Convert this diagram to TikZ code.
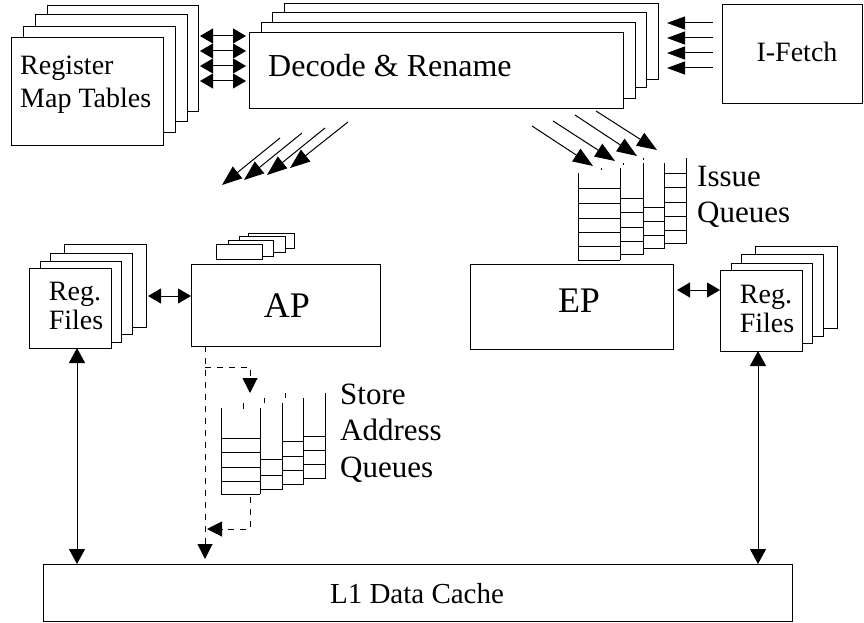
\documentclass[tikz,border=0pt]{standalone}
\usepackage{fontspec}
\setmainfont{Liberation Serif}
\usetikzlibrary{arrows.meta,calc}
\newcommand\mybox[5]{\node[box,anchor=north west,minimum width={(#4-#2)*1pt},minimum height={(#5-#3)*1pt}] (#1) at (#2,#3) {};}
\begin{document}
\begin{tikzpicture}[x=1pt,y=-1pt,
  box/.style={draw,fill=white,line width=1pt,inner sep=0pt,outer sep=0pt},
  qline/.style={line width=1pt},
  lbl/.style={inner sep=0pt,font=\fontsize{28}{33}\selectfont},
  qlbl/.style={inner sep=0pt,font=\fontsize{31}{36}\selectfont},
  biglbl/.style={inner sep=0pt,font=\fontsize{36}{40}\selectfont},
  bigarr/.style={line width=1pt,-{Triangle[length=18pt,width=13pt]}},
  diagarr/.style={line width=1pt,-{Triangle[length=20pt,width=15pt]}},
  dblarr/.style={line width=1pt,{Triangle[length=13pt,width=15pt]}-{Triangle[length=13pt,width=15pt]}},
  vdblarr/.style={line width=1pt,{Triangle[length=15pt,width=16pt]}-{Triangle[length=15pt,width=16pt]}},
  dasharr/.style={line width=1pt,dash pattern=on 6pt off 6pt,-{Triangle[length=15pt,width=15pt]}}
]
\useasboundingbox (0,0) rectangle (864,623);
% Register map tables
\mybox{rmt4}{47}{6}{198}{112}
\mybox{rmt3}{35}{15}{187}{122}
\mybox{rmt2}{23}{27}{175}{132}
\mybox{rmt1}{11}{38}{163}{145}
\node[lbl,anchor=base west] (rmtA) at (20,75) {Register};
\node[lbl,anchor=base west] (rmtB) at (20,108) {Map Tables};
% Decode & Rename
\mybox{dec4}{284}{4}{658}{80}
\mybox{dec3}{272}{13}{646}{88}
\mybox{dec2}{261}{23}{635}{99}
\mybox{dec1}{249}{33}{623}{109}
\node[inner sep=0pt,font=\fontsize{32}{36}\selectfont,anchor=base west] (decT) at (268,77) {Decode \& Rename};
% I-Fetch
\mybox{ifetch}{722}{5}{862}{104}
\node[lbl,anchor=base] (ifT) at (797,62) {I-Fetch};
% arrows I-Fetch -> Decode
\foreach \yy in {23,38,53,68}{
  \coordinate (h) at (0,\yy);
  \draw[bigarr,shorten <=9pt,shorten >=9pt] (ifetch.west |- h) -- (dec4.east |- h);
}
% RMT <-> Decode
\foreach \yy in {36,51,66,81}{
  \coordinate (h) at (0,\yy);
  \draw[dblarr,shorten <=2pt,shorten >=3pt] (rmt4.east |- h) -- (dec1.west |- h);
}
% diagonal arrows to AP side
\foreach \sx/\sy/\tx/\ty in {280/138/222/185,302/133/244/180,325/128/267/175,348/122/290/168}{
  \coordinate (ds) at (\sx,\sy);
  \coordinate (dt) at (\tx,\ty);
  \draw[diagarr] (ds) -- (dt);
}
% diagonal arrows to issue queues
\foreach \sx/\sy/\tx/\ty in {532/126/593/166,553/121/615/161,575/115/637/156,596/111/657/150}{
  \coordinate (ds) at (\sx,\sy);
  \coordinate (dt) at (\tx,\ty);
  \draw[diagarr] (ds) -- (dt);
}
% Issue queues
\draw[qline] (578,173) -- (578,260) -- (620,260);
\draw[qline] (620,168) -- (620,260);
\foreach \yy in {188,203,218,232,246} \draw[qline] (578,\yy) -- (620,\yy);
\draw[qline] (643,163) -- (643,254) -- (620,254);
\foreach \yy in {198,212,227,241} \draw[qline] (620,\yy) -- (643,\yy);
\draw[qline] (664,163) -- (664,248) -- (643,248);
\foreach \yy in {207,221,235} \draw[qline] (643,\yy) -- (664,\yy);
\draw[qline] (686,158) -- (686,243) -- (664,243);
\foreach \yy in {173,187,202,216,230} \draw[qline] (664,\yy) -- (686,\yy);
\draw[qline] (601,168) -- (601,170) (623,163) -- (623,165) (643,158) -- (643,160);
\node[qlbl,anchor=base west] (iqA) at (697,186) {Issue};
\node[qlbl,anchor=base west] (iqB) at (697,222) {Queues};
% Reg files left
\mybox{rfl4}{64}{244}{146}{327}
\mybox{rfl3}{50}{253}{132}{334}
\mybox{rfl2}{40}{261}{121}{342}
\mybox{rfl1}{29}{268}{111}{348}
\node[lbl,anchor=base] (rflA) at (75,300) {Reg.};
\node[lbl,anchor=base] (rflB) at (76,329) {Files};
% Reg files right
\mybox{rfr4}{755}{246}{837}{328}
\mybox{rfr3}{741}{254}{823}{336}
\mybox{rfr2}{731}{263}{812}{343}
\mybox{rfr1}{720}{270}{802}{351}
\node[lbl,anchor=base] (rfrA) at (766,303) {Reg.};
\node[lbl,anchor=base] (rfrB) at (767,332) {Files};
% AP small stack
\mybox{s4}{248}{233}{294}{248}
\mybox{s3}{239}{236}{285}{252}
\mybox{s2}{228}{240}{273}{256}
\mybox{s1}{216}{244}{262}{259}
% AP and EP
\mybox{ap}{191}{264}{380}{346}
\node[biglbl,anchor=base] (apT) at (287,317) {AP};
\mybox{ep}{470}{264}{673}{349}
\node[biglbl,anchor=base] (epT) at (579,312) {EP};
% L1
\mybox{l1}{43}{564}{792}{621}
\node[inner sep=0pt,font=\fontsize{29}{34}\selectfont,anchor=base] (l1T) at (417,603) {L1 Data Cache};
% horizontal double arrows
\coordinate (hl) at (0,296);
\draw[dblarr,shorten <=2pt] (rfl4.east |- hl) -- (ap.west |- hl);
\coordinate (hr) at (0,290);
\draw[dblarr,shorten <=4pt] (ep.east |- hr) -- (rfr1.west |- hr);
% vertical double arrows
\coordinate (vl) at (77,0);
\draw[vdblarr] (rfl1.south -| vl) -- (l1.north -| vl);
\coordinate (vr) at (758,0);
\draw[vdblarr] (rfr1.south -| vr) -- (l1.north -| vr);
% dashed store path
\coordinate (dx) at (205,0);
\draw[dasharr,shorten >=5pt] (ap.south -| dx) -- (l1.north -| dx);
\coordinate (br) at (205,367);
\coordinate (bt) at (250,393);
\draw[dasharr] (br) -| (bt);
\coordinate (bb) at (250,497);
\coordinate (be) at (207,529);
\draw[dasharr] (bb) |- (be);
% Store address queues
\draw[qline] (221,408) -- (221,494) -- (260,494);
\draw[qline] (260,408) -- (260,494);
\foreach \yy in {438,452,467,481} \draw[qline] (221,\yy) -- (260,\yy);
\draw[qline] (282,403) -- (282,489) -- (260,489);
\foreach \yy in {459,475} \draw[qline] (260,\yy) -- (282,\yy);
\draw[qline] (303,398) -- (303,484) -- (282,484);
\foreach \yy in {441,456,470} \draw[qline] (282,\yy) -- (303,\yy);
\draw[qline] (325,393) -- (325,478) -- (303,478);
\foreach \yy in {436,450,464} \draw[qline] (303,\yy) -- (325,\yy);
\draw[qline] (243,403) -- (243,409) (264,398) -- (264,403) (285,393) -- (285,398);
\node[qlbl,anchor=base west] (saA) at (340,404) {Store};
\node[qlbl,anchor=base west] (saB) at (340,440) {Address};
\node[qlbl,anchor=base west] (saC) at (340,477) {Queues};
\end{tikzpicture}
\end{document}
